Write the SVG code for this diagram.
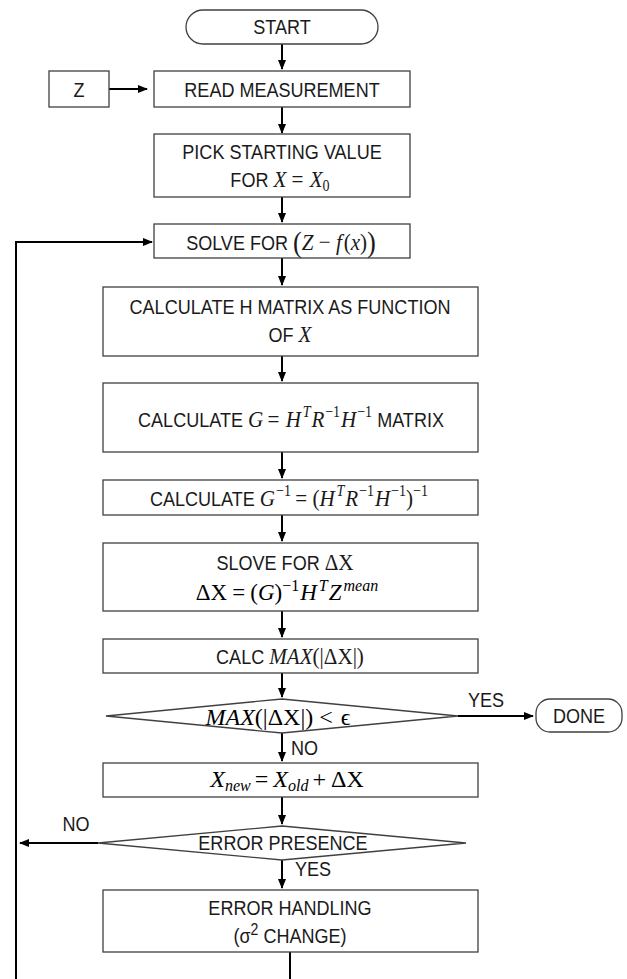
<svg xmlns="http://www.w3.org/2000/svg" width="627" height="979" viewBox="0 0 627 979">
<defs>
<marker id="ah" markerWidth="10" markerHeight="8" refX="9" refY="4" orient="auto" markerUnits="userSpaceOnUse"><path d="M0,0 L10,4 L0,8 z" fill="#000"/></marker>
</defs>
<style>
.box{fill:#fff;stroke:#404040;stroke-width:1.3}
.c{fill:none;stroke:#000;stroke-width:2}
.t{font-family:"Liberation Sans",Arial,sans-serif;font-size:20.5px;fill:#1a1a1a}
.m{font-family:"Liberation Serif","Times New Roman",serif;font-style:italic;font-size:24px}
.u{font-family:"Liberation Serif","Times New Roman",serif;font-style:normal;font-size:24px}
.s{font-size:16px}
.b{font-size:30px}
</style>
<rect width="627" height="979" fill="#fff"/>

<g id="connectors">
<path class="c" d="M282,44 V69" marker-end="url(#ah)"/>
<path class="c" d="M109,89 H147" marker-end="url(#ah)"/>
<path class="c" d="M282,107 V133" marker-end="url(#ah)"/>
<path class="c" d="M282,197 V222" marker-end="url(#ah)"/>
<path class="c" d="M282,258 V285" marker-end="url(#ah)"/>
<path class="c" d="M282,356 V381" marker-end="url(#ah)"/>
<path class="c" d="M282,452 V478" marker-end="url(#ah)"/>
<path class="c" d="M282,515 V541" marker-end="url(#ah)"/>
<path class="c" d="M282,611 V637" marker-end="url(#ah)"/>
<path class="c" d="M282,673 V697" marker-end="url(#ah)"/>
<path class="c" d="M458,716 H533" marker-end="url(#ah)"/>
<text class="t" transform="translate(486,707) scale(0.88,1)" text-anchor="middle">YES</text>
<path class="c" d="M282,733 V761" marker-end="url(#ah)"/>
<text class="t" transform="translate(291,755) scale(0.88,1)">NO</text>
<path class="c" d="M282,797 V824" marker-end="url(#ah)"/>
<path class="c" d="M98,843 H20" marker-end="url(#ah)"/>
<text class="t" transform="translate(76,831) scale(0.88,1)" text-anchor="middle">NO</text>
<path class="c" d="M282,860 V888" marker-end="url(#ah)"/>
<text class="t" transform="translate(295,876) scale(0.88,1)">YES</text>
<path class="c" d="M290,952 V995 H16 V242 H152" marker-end="url(#ah)"/>
</g>

<g id="start">
<rect class="box" x="186" y="10" width="192" height="34" rx="17"/>
<text class="t" transform="translate(282,34) scale(0.88,1)" text-anchor="middle">START</text>
</g>
<g id="z">
<rect class="box" x="49" y="71" width="60" height="36"/>
<text class="t" transform="translate(79,97) scale(0.88,1)" text-anchor="middle">Z</text>
</g>
<g id="read">
<rect class="box" x="154" y="71" width="256" height="36"/>
<text class="t" transform="translate(282,97) scale(0.88,1)" text-anchor="middle">READ MEASUREMENT</text>
</g>
<g id="pick">
<rect class="box" x="154" y="134" width="256" height="63"/>
<text class="t" transform="translate(282,159) scale(0.88,1)" text-anchor="middle">PICK STARTING VALUE</text>
<text class="t" transform="translate(280,187) scale(0.88,1)" text-anchor="middle">FOR <tspan class="m">X</tspan><tspan class="u" dx="6">=</tspan><tspan class="m" dx="7">X</tspan><tspan class="u s" dy="4">0</tspan></text>
</g>
<g id="solve">
<rect class="box" x="154" y="224" width="256" height="34"/>
<text class="t" transform="translate(281,250) scale(0.88,1)" text-anchor="middle">SOLVE FOR <tspan class="u b" dy="2">(</tspan><tspan class="m" dy="-2">Z</tspan><tspan class="u"> − </tspan><tspan class="m">f</tspan><tspan class="u" dx="2">(</tspan><tspan class="m">x</tspan><tspan class="u">)</tspan><tspan class="u b" dy="2">)</tspan></text>
</g>
<g id="calch">
<rect class="box" x="103" y="287" width="375" height="69"/>
<text class="t" transform="translate(290,314) scale(0.88,1)" text-anchor="middle">CALCULATE H MATRIX AS FUNCTION</text>
<text class="t" transform="translate(290,342) scale(0.88,1)" text-anchor="middle">OF <tspan class="m">X</tspan></text>
</g>
<g id="calcg">
<rect class="box" x="103" y="383" width="375" height="69"/>
<text class="t" transform="translate(291,427) scale(0.88,1)" text-anchor="middle">CALCULATE <tspan class="m">G</tspan><tspan class="u" dx="5">=</tspan><tspan class="m" dx="7">H</tspan><tspan class="m s" dy="-10" dx="2">T</tspan><tspan class="m" dy="10" dx="1">R</tspan><tspan class="u s" dy="-10" dx="1">−1</tspan><tspan class="m" dy="10" dx="1">H</tspan><tspan class="u s" dy="-10" dx="1">−1</tspan><tspan dy="10"> MATRIX</tspan></text>
</g>
<g id="calcginv">
<rect class="box" x="103" y="480" width="375" height="35"/>
<text class="t" transform="translate(289,506) scale(0.88,1)" text-anchor="middle">CALCULATE <tspan class="m">G</tspan><tspan class="u s" dy="-10" dx="1">−1</tspan><tspan class="u" dy="10" dx="5">=</tspan><tspan class="u" dx="6">(</tspan><tspan class="m">H</tspan><tspan class="m s" dy="-10" dx="2">T</tspan><tspan class="m" dy="10" dx="1">R</tspan><tspan class="u s" dy="-10" dx="1">−1</tspan><tspan class="m" dy="10" dx="1">H</tspan><tspan class="u s" dy="-10" dx="1">−1</tspan><tspan class="u" dy="10">)</tspan><tspan class="u s" dy="-10">−1</tspan></text>
</g>
<g id="solvedx">
<rect class="box" x="103" y="543" width="375" height="68"/>
<text class="t" transform="translate(285,570) scale(0.88,1)" text-anchor="middle">SLOVE FOR <tspan class="u">ΔX</tspan></text>
<text class="u" x="287" y="600" text-anchor="middle" style="font-size:23px">ΔX<tspan dx="5">=</tspan><tspan dx="5">(</tspan><tspan class="m" style="font-size:23px">G</tspan>)<tspan class="s" dy="-9">−1</tspan><tspan class="m" dy="9" dx="1" style="font-size:23px">H</tspan><tspan class="m s" dy="-9" dx="2">T</tspan><tspan class="m" dy="9" dx="1" style="font-size:23px">Z</tspan><tspan class="m s" dy="-9" dx="2">mean</tspan></text>
</g>
<g id="calcmax">
<rect class="box" x="103" y="639" width="375" height="34"/>
<text class="t" transform="translate(290,664) scale(0.88,1)" text-anchor="middle">CALC <tspan class="m">MAX</tspan><tspan class="u">(|ΔX|)</tspan></text>
</g>
<g id="decision1">
<polygon class="box" points="282,699 458,716 282,733 106,716"/>
<text class="u" x="278" y="725" text-anchor="middle"><tspan class="m">MAX</tspan>(|ΔX|)<tspan dx="6">&lt;</tspan><tspan dx="8">ϵ</tspan></text>
</g>
<g id="done">
<rect class="box" x="536" y="699" width="86" height="33" rx="14"/>
<text class="t" transform="translate(579,723) scale(0.88,1)" text-anchor="middle">DONE</text>
</g>
<g id="xnew">
<rect class="box" x="103" y="763" width="375" height="34"/>
<text class="u" x="287" y="787" text-anchor="middle"><tspan class="m">X</tspan><tspan class="m s" dy="4">new</tspan><tspan dy="-4" dx="4">=</tspan><tspan class="m" dx="5">X</tspan><tspan class="m s" dy="4">old</tspan><tspan dy="-4" dx="4">+</tspan><tspan dx="5">ΔX</tspan></text>
</g>
<g id="decision2">
<polygon class="box" points="282,826 466,843 282,860 98,843"/>
<text class="t" transform="translate(283,850) scale(0.88,1)" text-anchor="middle">ERROR PRESENCE</text>
</g>
<g id="errhandling">
<rect class="box" x="103" y="890" width="375" height="62"/>
<text class="t" transform="translate(290,915) scale(0.88,1)" text-anchor="middle">ERROR HANDLING</text>
<text class="t" transform="translate(290,943) scale(0.88,1)" text-anchor="middle">(σ<tspan class="s" dy="-8">2</tspan><tspan dy="8"> CHANGE)</tspan></text>
</g>
</svg>
